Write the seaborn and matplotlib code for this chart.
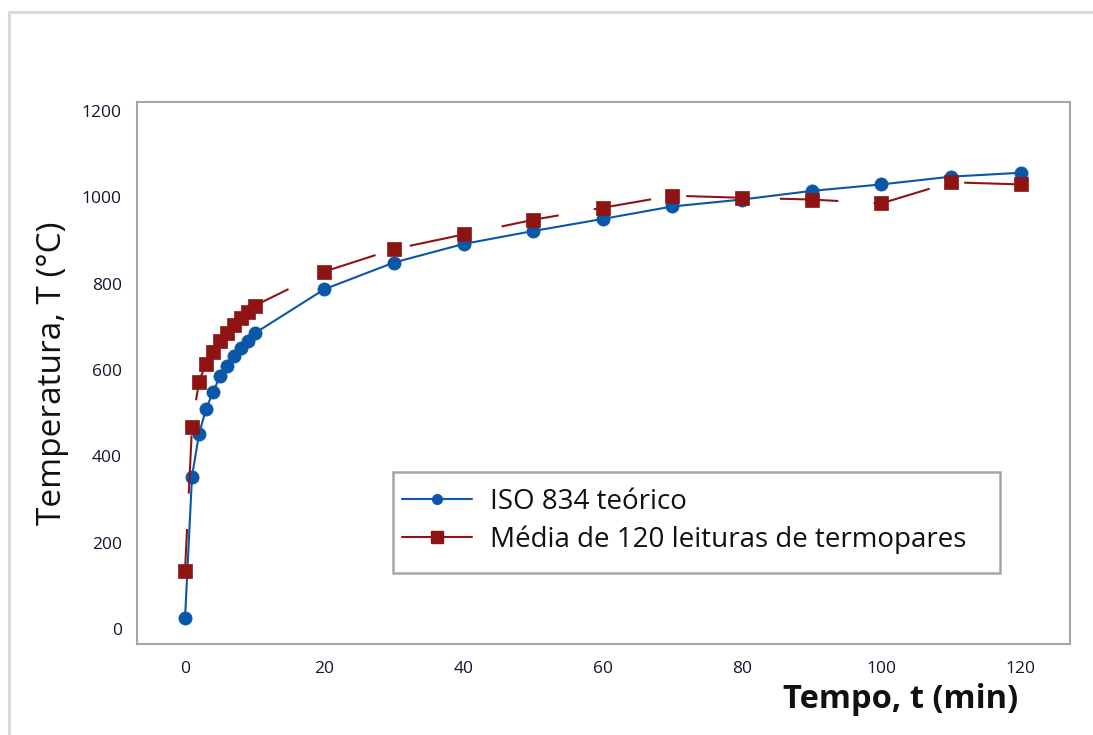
import matplotlib
matplotlib.use("Agg")
import matplotlib.pyplot as plt
from matplotlib.patches import Rectangle
from matplotlib.lines import Line2D
import seaborn as sns
import pandas as pd

# ---- data ----
tempo = [0, 1, 2, 3, 4, 5, 6, 7, 8, 9, 10, 20, 30, 40, 50, 60, 70, 80, 90, 100, 110, 120]
iso834 = [25, 353, 451, 509, 548, 585, 610, 633, 650, 668, 685,
          787, 849, 892, 922, 950, 979, 995, 1015, 1030, 1048, 1057]
media = [135, 469, 573, 615, 641, 666, 685, 704, 720, 735, 749,
         828, 880, 914, 948, 976, 1004, 999, 995, 986, 1035, 1030]
serie_iso = "ISO 834 teórico"
serie_media = "Média de 120 leituras de termopares"
xticks = [0, 20, 40, 60, 80, 100, 120]
yticks = [0, 200, 400, 600, 800, 1000, 1200]
xlabel = "Tempo, t (min)"
ylabel = "Temperatura, T (°C)"

df_iso = pd.DataFrame({"t": tempo, "T": iso834})
df_med = pd.DataFrame({"t": tempo, "T": media})

sns.set_theme(style="white")
plt.rcParams["font.family"] = ["Open Sans", "DejaVu Sans"]

BLUE = "#0A56A8"
RED = "#8E1414"
GRAY = "#A6A6A6"

fig = plt.figure(figsize=(10.93, 7.35), dpi=100)
ax = fig.add_axes([137 / 1093, 1 - 644 / 735, (1070 - 137) / 1093, (644 - 102) / 735])

sns.lineplot(data=df_iso, x="t", y="T", ax=ax, color=BLUE, marker="o", markersize=9.5,
             markeredgecolor=BLUE, markeredgewidth=0.5, linewidth=1.5, sort=False,
             label=serie_iso, legend=False)
sns.lineplot(data=df_med, x="t", y="T", ax=ax, color=RED, marker="s", markersize=10.5,
             markeredgecolor=RED, markeredgewidth=0.5, linewidth=1.5, sort=False,
             linestyle=(8, (28, 17)), label=serie_media, legend=False)

ax.set_xlim(-6.9, 127.1)
ax.set_ylim(-35, 1221)
ax.set_xticks(xticks)
ax.set_yticks(yticks)
ax.set_xticklabels([str(v) for v in xticks])
ax.set_yticklabels([str(v) for v in yticks])

for s in ax.spines.values():
    s.set_visible(True)
    s.set_color(GRAY)
    s.set_linewidth(1.5)
ax.tick_params(axis="both", direction="out", length=5, width=1.2, color=GRAY,
               labelsize=12.5, labelcolor="#15152e", pad=6)
ax.tick_params(axis="x", pad=7)

ax.set_xlabel(xlabel, fontsize=23.5, fontweight="bold", color="#111111",
              ha="right", va="center")
ax.xaxis.set_label_coords((1018 - 137) / 933, (644 - 700) / 542)
ax.set_ylabel(ylabel, fontsize=24, color="#111111", va="center", ha="center")
ax.yaxis.set_label_coords((53 - 137) / 933, 0.5)

# legend
ax.add_patch(Rectangle(((393 - 137) / 933, (644 - 573) / 542), (1000 - 393) / 933,
                       (573 - 472) / 542, transform=ax.transAxes, fill=True,
                       facecolor="white", edgecolor=GRAY, linewidth=1.8, zorder=4))
handles = [Line2D([], [], color=BLUE, marker="o", markersize=7, linewidth=1.5),
           Line2D([], [], color=RED, marker="s", markersize=8, linewidth=1.5)]
leg = ax.legend(handles, [serie_iso, serie_media], loc="upper left",
                bbox_to_anchor=((393 - 137) / 933 - 0.005, (644 - 474) / 542),
                frameon=False, fontsize=20, handlelength=2.5, handletextpad=0.65,
                labelspacing=0.33, borderpad=0.0)
leg.set_zorder(5)
for t in leg.get_texts():
    t.set_color("#111111")

# outer frame (partial, as in the reference)
fig.add_artist(Line2D([9 / 1093, 9 / 1093], [0, 1 - 11.5 / 735], transform=fig.transFigure,
                      color="#DADADA", linewidth=2.2))
fig.add_artist(Line2D([9 / 1093, 1], [1 - 11.5 / 735, 1 - 11.5 / 735], transform=fig.transFigure,
                      color="#DADADA", linewidth=2.2))

fig.savefig("out.png", dpi=100)
